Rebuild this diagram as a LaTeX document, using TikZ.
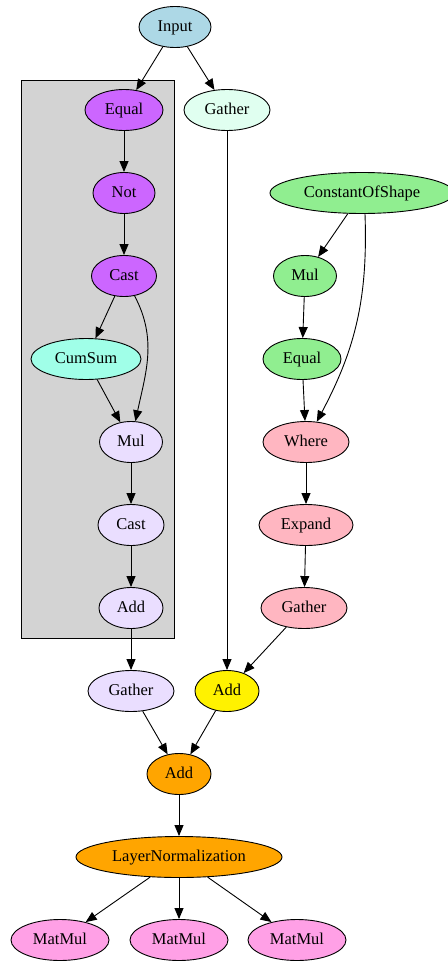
\documentclass[tikz,border=0pt]{standalone}
\usepackage{fontspec}
\setmainfont{Liberation Serif}
\usetikzlibrary{shapes.geometric,arrows.meta}

\begin{document}
\begin{tikzpicture}[x=1pt,y=-1pt,
    op/.style={ellipse, draw, line width=0.9pt, inner sep=0pt, minimum height=41pt, text height=10pt, text depth=1pt, font=\fontsize{16.5}{19}\selectfont},
    edge/.style={line width=0.9pt, -{Triangle[length=11pt,width=9pt]}}]
    % Define colors
    \definecolor{inputcolor}{RGB}{173,216,230}
    \definecolor{maskcolor}{RGB}{204,102,255}
    \definecolor{mintcolor}{RGB}{224,255,240}
    \definecolor{cumcolor}{RGB}{160,255,232}
    \definecolor{lavcolor}{RGB}{234,222,255}
    \definecolor{constcolor}{RGB}{144,238,144}
    \definecolor{pinkcolor}{RGB}{255,182,193}
    \definecolor{matcolor}{RGB}{255,160,230}
    \definecolor{normcolor}{RGB}{255,165,0}
    \definecolor{clustercolor}{RGB}{211,211,211}

    \useasboundingbox (0,0) rectangle (447,963);

    % Cluster
    \draw[fill=clustercolor, line width=0.9pt] (21,80) rectangle (174,638);

    % Nodes
    \node[op, fill=inputcolor, minimum width=72pt] (input) at (175,27) {Input};
    \node[op, fill=maskcolor, minimum width=78pt] (equalA) at (124,110) {Equal};
    \node[op, fill=mintcolor, minimum width=86pt] (gatherA) at (227,110) {Gather};
    \node[op, fill=maskcolor, minimum width=62pt] (notA) at (124,193) {Not};
    \node[op, fill=constcolor, minimum width=184pt] (cos) at (362,193) {ConstantOfShape};
    \node[op, fill=maskcolor, minimum width=65pt] (castA) at (124,276) {Cast};
    \node[op, fill=constcolor, minimum width=63pt] (mulC) at (305,276) {Mul};
    \node[op, fill=cumcolor, minimum width=110pt] (cumsum) at (86,359) {CumSum};
    \node[op, fill=constcolor, minimum width=78pt] (equalC) at (302,359) {Equal};
    \node[op, fill=lavcolor, minimum width=63pt] (mulB) at (131,442) {Mul};
    \node[op, fill=pinkcolor, minimum width=86pt] (where) at (306,442) {Where};
    \node[op, fill=lavcolor, minimum width=66pt] (castB) at (131,525) {Cast};
    \node[op, fill=pinkcolor, minimum width=94pt] (expand) at (306,525) {Expand};
    \node[op, fill=lavcolor, minimum width=64pt] (addB) at (131,608) {Add};
    \node[op, fill=pinkcolor, minimum width=86pt] (gatherC) at (304,608) {Gather};
    \node[op, fill=lavcolor, minimum width=86pt] (gatherB) at (131,691) {Gather};
    \node[op, fill=yellow, minimum width=64pt] (addC) at (227,691) {Add};
    \node[op, fill=normcolor, minimum width=64pt] (addD) at (179,774) {Add};
    \node[op, fill=normcolor, minimum width=206pt] (layernorm) at (179,857) {LayerNormalization};
    \foreach \x/\name in {60/matmulA, 179/matmulB, 297/matmulC}
        \node[op, fill=matcolor, minimum width=98pt] (\name) at (\x,940) {MatMul};

    % Edges
    \draw[edge] (input) -- (equalA);
    \draw[edge] (input) -- (gatherA);
    \draw[edge] (equalA) -- (notA);
    \draw[edge] (notA) -- (castA);
    \draw[edge] (castA) -- (cumsum);
    \draw[edge] (castA) to[out=-62, in=78] (mulB);
    \draw[edge] (cumsum) -- (mulB);
    \draw[edge] (mulB) -- (castB);
    \draw[edge] (castB) -- (addB);
    \draw[edge] (addB) -- (gatherB);
    \draw[edge] (gatherA) -- (addC);
    \draw[edge] (cos) -- (mulC);
    \draw[edge] (cos.south) ++(3,0) to[out=-88, in=62] (where);
    \draw[edge] (mulC) -- (equalC);
    \draw[edge] (equalC) -- (where);
    \draw[edge] (where) -- (expand);
    \draw[edge] (expand) -- (gatherC);
    \draw[edge] (gatherC) -- (addC);
    \draw[edge] (gatherB) -- (addD);
    \draw[edge] (addC) -- (addD);
    \draw[edge] (addD) -- (layernorm);
    \foreach \name in {matmulA, matmulB, matmulC}
        \draw[edge] (layernorm) -- (\name);
\end{tikzpicture}
\end{document}
